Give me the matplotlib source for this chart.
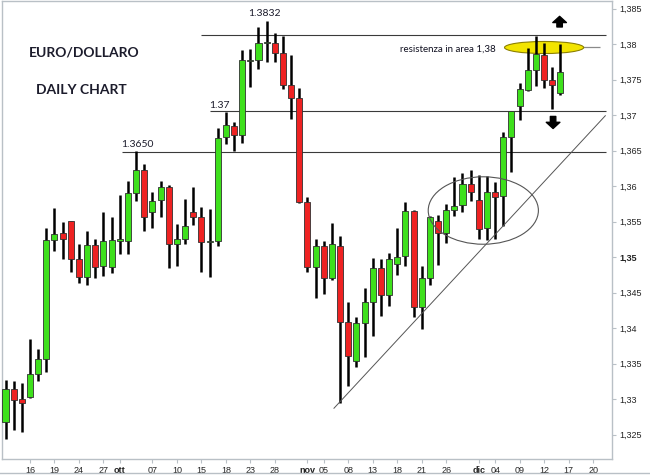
import matplotlib.pyplot as plt
from matplotlib.patches import Ellipse
from matplotlib.lines import Line2D

# EUR/USD daily candles, trading-day index 0..68 (11 Sep -> 16 Dec)
opens = [1.3267, 1.3314, 1.3300, 1.3303, 1.3335, 1.3356, 1.3524, 1.3534, 1.3551, 1.3497,
         1.3472, 1.3517, 1.3488, 1.3486, 1.3523, 1.3523, 1.3590, 1.3623, 1.3564, 1.3580,
         1.3599, 1.3518, 1.3526, 1.3564, 1.3557, 1.3521, 1.3522, 1.3669, 1.3684, 1.3672,
         1.3776, 1.3778, 1.3801, 1.3802, 1.3788, 1.3742, 1.3724, 1.3578, 1.3486, 1.3515,
         1.3471, 1.3516, 1.3408, 1.3353, 1.3407, 1.3437, 1.3484, 1.3446, 1.3490, 1.3501,
         1.3565, 1.3429, 1.3471, 1.3551, 1.3534, 1.3566, 1.3573, 1.3603, 1.3580, 1.3541,
         1.3592, 1.3586, 1.3669, 1.3713, 1.3735, 1.3764, 1.3785, 1.3749, 1.3731]
highs = [1.3327, 1.3326, 1.3322, 1.3385, 1.3370, 1.3541, 1.3569, 1.3550, 1.3551, 1.3519,
         1.3537, 1.3526, 1.3564, 1.3556, 1.3587, 1.3607, 1.3650, 1.3631, 1.3591, 1.3607,
         1.3601, 1.3547, 1.3582, 1.3598, 1.3571, 1.3568, 1.3682, 1.3704, 1.3690, 1.3792,
         1.3793, 1.3824, 1.3832, 1.3816, 1.3812, 1.3785, 1.3738, 1.3585, 1.3525, 1.3522,
         1.3548, 1.3529, 1.3437, 1.3415, 1.3456, 1.3498, 1.3497, 1.3505, 1.3541, 1.3578,
         1.3566, 1.3487, 1.3558, 1.3559, 1.3574, 1.3612, 1.3619, 1.3622, 1.3616, 1.3614,
         1.3606, 1.3676, 1.3706, 1.3745, 1.3795, 1.3811, 1.3802, 1.3768, 1.3800]
lows = [1.3244, 1.3256, 1.3254, 1.3302, 1.3325, 1.3338, 1.3508, 1.3497, 1.3479, 1.3464,
        1.3461, 1.3471, 1.3473, 1.3477, 1.3504, 1.3504, 1.3579, 1.3537, 1.3541, 1.3557,
        1.3485, 1.3488, 1.3519, 1.3545, 1.3479, 1.3472, 1.3515, 1.3659, 1.3650, 1.3661,
        1.3740, 1.3765, 1.3774, 1.3774, 1.3736, 1.3695, 1.3576, 1.3479, 1.3442, 1.3448,
        1.3468, 1.3295, 1.3318, 1.3345, 1.3359, 1.3389, 1.3417, 1.3431, 1.3474, 1.3487,
        1.3415, 1.3399, 1.3461, 1.3489, 1.3520, 1.3558, 1.3564, 1.3579, 1.3525, 1.3524,
        1.3526, 1.3543, 1.3620, 1.3693, 1.3734, 1.3741, 1.3738, 1.3708, 1.3728]
closes = [1.3314, 1.3298, 1.3294, 1.3335, 1.3356, 1.3524, 1.3533, 1.3525, 1.3497, 1.3472,
          1.3517, 1.3486, 1.3522, 1.3524, 1.3525, 1.3590, 1.3623, 1.3556, 1.3579, 1.3598,
          1.3518, 1.3526, 1.3543, 1.3556, 1.3521, 1.3523, 1.3668, 1.3686, 1.3672, 1.3777,
          1.3778, 1.3802, 1.3803, 1.3787, 1.3742, 1.3724, 1.3578, 1.3486, 1.3515, 1.3471,
          1.3518, 1.3408, 1.3360, 1.3407, 1.3437, 1.3484, 1.3446, 1.3497, 1.3500, 1.3565,
          1.3429, 1.3471, 1.3557, 1.3534, 1.3566, 1.3572, 1.3603, 1.3591, 1.3540, 1.3592,
          1.3585, 1.3669, 1.3705, 1.3736, 1.3763, 1.3786, 1.3750, 1.3742, 1.3760]

tick_pos = [3, 6, 9, 12, 14, 18, 21, 24, 27, 30, 33, 37, 39, 42, 45, 48, 51, 54, 58, 60, 63, 66, 69, 72]
tick_lab = ['16', '19', '24', '27', 'ott', '07', '10', '15', '18', '23', '28', 'nov', '05',
            '08', '13', '18', '21', '26', 'dic', '04', '09', '12', '17', '20']
months = ['ott', 'nov', 'dic']
price_ticks = [1.325, 1.33, 1.335, 1.34, 1.345, 1.35, 1.355, 1.36, 1.365, 1.37, 1.375, 1.38, 1.385]

# levels drawn on the chart
lvl_top, lvl_137, lvl_1365 = 1.3813, 1.3705, 1.36475
trend_x = [40.25, 73.5]
trend_y = [1.3287, 1.3699]

fig = plt.figure(figsize=(6.5, 4.75), dpi=100)
ax = fig.add_axes([2 / 650, 16 / 475, 610 / 650, 458 / 475])

grey = '#b9c0c6'
for s in ax.spines.values():
    s.set_color(grey)
    s.set_linewidth(1.0)

# annotation lines
ax.hlines(lvl_top, 23.96, 73.6, color='#3a3a3a', lw=0.8, zorder=1)
ax.hlines(lvl_137, 25.06, 73.6, color='#3a3a3a', lw=0.8, zorder=1)
ax.hlines(lvl_1365, 14.27, 73.6, color='#3a3a3a', lw=0.8, zorder=1)
ax.hlines(1.3796, 66, 72.85, color='#8a8a8a', lw=0.9, zorder=1)
ax.add_patch(Ellipse((66.0, 1.37951), 9.7, 0.0017, facecolor='#f2e400',
                     edgecolor='#8c8000', lw=0.8, zorder=2))
ax.plot(trend_x, trend_y, color='#555555', lw=0.7, zorder=5)
ax.add_patch(Ellipse((58.55, 1.35655), 13.5, 0.0095, fill=False,
                     edgecolor='#555555', lw=0.8, zorder=5))

# candles
x = list(range(len(opens)))
ax.vlines(x, lows, highs, color='black', lw=1.8, zorder=3)
cols = ['#3ee01c' if c >= o else '#ee2222' for o, c in zip(opens, closes)]
bottoms = [min(o, c) for o, c in zip(opens, closes)]
heights = [max(abs(c - o), 0.00004) for o, c in zip(opens, closes)]
ax.bar(x, heights, bottom=bottoms, width=0.74, color=cols, edgecolor='#303030',
       linewidth=0.6, zorder=4)

# block arrows
arrow_style = dict(arrowstyle='simple,head_width=0.7,head_length=0.32,tail_width=0.28',
                   color='black', mutation_scale=14, shrinkA=0, shrinkB=0)
ax.annotate('', xy=(67.9, 1.38390), xytext=(67.9, 1.38240), arrowprops=arrow_style)
ax.annotate('', xy=(67.1, 1.36810), xytext=(67.1, 1.36980), arrowprops=arrow_style)

# texts
tc = '#1c1c2c'
ax.text(2.88, 1.37887, 'EURO/DOLLARO', fontfamily='Lato', fontweight='bold',
        fontsize=10, color=tc, va='center', ha='left')
ax.text(3.74, 1.37352, 'DAILY CHART', fontfamily='Lato', fontweight='bold',
        fontsize=10, color=tc, va='center', ha='left')
ax.text(31.74, 1.38432, '1.3832', fontfamily='Lato', fontsize=7.5, color=tc,
        va='center', ha='center')
ax.text(26.2, 1.37141, '1.37', fontfamily='Lato', fontsize=7.5, color=tc,
        va='center', ha='center')
ax.text(16.17, 1.36578, '1.3650', fontfamily='Lato', fontsize=7.5, color=tc,
        va='center', ha='center')
ax.text(54.2, 1.3793, 'resistenza in area 1,38', fontfamily='Lato', fontsize=7,
        color='#101020', va='center', ha='center')

ax.set_xlim(-0.43, 74.32)
ax.set_ylim(1.32155, 1.38606)

ax.yaxis.tick_right()
ax.set_yticks(price_ticks)
ax.set_yticklabels([('%g' % p).replace('.', ',') for p in price_ticks])
for lab, p in zip(ax.get_yticklabels(), price_ticks):
    if abs(p - 1.35) < 1e-9:
        lab.set_fontweight('bold')
ax.set_xticks(tick_pos)
ax.set_xticklabels(tick_lab)
for lab in ax.get_xticklabels():
    if lab.get_text() in months:
        lab.set_fontweight('bold')
ax.tick_params(axis='both', labelsize=6.5, labelcolor='#222222', color=grey,
               length=3, width=0.8, pad=2)
for lab in ax.get_xticklabels() + ax.get_yticklabels():
    lab.set_fontfamily('Liberation Sans')

# outer frame line at the bottom
fig.add_artist(Line2D([0, 1], [2 / 475, 2 / 475], color=grey, lw=1.0))

fig.savefig('out.png', dpi=100)
